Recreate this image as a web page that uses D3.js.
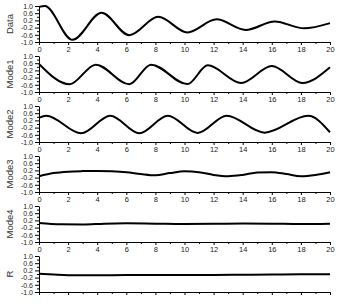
<!DOCTYPE html>
<html lang="en">
  <head>
    <meta charset="utf-8">
    <title>Modes</title>
    <script src="https://d3js.org/d3.v7.min.js"></script>
    <style>
      body { margin: 0; background: #fff; }
      text { font-family: "Liberation Sans", Arial, sans-serif; }
    </style>
  </head>
  <body>
    <script type="text/javascript">

      var w = 346;
      var h = 305;

      var names = ["Data", "Mode1", "Mode2", "Mode3", "Mode4", "R"];

      // turning points (t, value)
      var dataT  = [0, 0.4, 2.3, 4.3, 6.2, 8.2, 10.2, 12.2, 14.2, 16.2, 18.2, 20];
      var dataV  = [0.95, 1.0, -0.88, 0.62, -0.62, 0.4, -0.47, 0.26, -0.33, 0.14, -0.24, 0.05];

      var mode1T = [0, 2.1, 3.9, 6.2, 7.7, 10.2, 11.6, 13.9, 16.0, 18.1, 20];
      var mode1V = [0.56, -0.57, 0.52, -0.57, 0.52, -0.56, 0.48, -0.5, 0.44, -0.5, 0.37];

      var mode2T = [0, 0.5, 2.9, 4.9, 6.9, 8.85, 10.9, 12.9, 15.5, 18.5, 20];
      var mode2V = [0.35, 0.46, -0.52, 0.46, -0.52, 0.46, -0.5, 0.46, -0.48, 0.46, -0.46];

      var mode3T = [0, 1, 2, 3, 4, 5, 6, 7, 8, 9, 10, 11, 12, 13, 14, 15, 16, 17, 18, 19, 20];
      var mode3V = [-0.12, 0.05, 0.13, 0.16, 0.17, 0.15, 0.1, 0.0, -0.07, 0.05, 0.15, 0.1, -0.05, -0.12, -0.05, 0.08, 0.1, 0.0, -0.12, -0.05, 0.1];

      var mode4T = [0, 1.5, 3, 4.5, 6, 8, 10, 12, 14, 16, 18, 20];
      var mode4V = [0.05, -0.02, -0.03, 0.02, 0.04, 0.02, 0.0, 0.01, 0.03, 0.02, 0.0, 0.02];

      var resT   = [0, 1, 2, 4, 6, 8, 10, 12, 14, 16, 18, 20];
      var resV   = [0.02, -0.03, -0.07, -0.07, -0.06, -0.06, -0.05, -0.05, -0.04, -0.03, -0.02, -0.02];

      var seriesT = [dataT, mode1T, mode2T, mode3T, mode4T, resT];
      var seriesV = [dataV, mode1V, mode2V, mode3V, mode4V, resV];

      var yMajor = [-1.0, -0.6, -0.2, 0.2, 0.6, 1.0];
      var yMinor = [-0.8, -0.4, 0, 0.4, 0.8];
      var xMajor = [0, 2, 4, 6, 8, 10, 12, 14, 16, 18, 20];
      var xMinor = [1, 3, 5, 7, 9, 11, 13, 15, 17, 19];

      var left = 39, right = 330;
      var panelH = 36;
      var tops = [6, 56, 106, 156, 206, 256];

      var svg = d3.select("body")
          .append("svg")
          .attr("width", w)
          .attr("height", h);

      var xscale = d3.scaleLinear()
            .domain([0, 20])
            .range([left, right]);

      names.forEach(function(name, i) {
        var top = tops[i];
        var yscale = d3.scaleLinear()
              .domain([-1, 1])
              .range([top + panelH, top]);

        var g = svg.append("g");

        // minor ticks first
        g.append("g")
          .attr("transform", "translate(" + left + ",0)")
          .call(d3.axisLeft(yscale).tickValues(yMinor).tickSize(2).tickFormat(""))
          .call(a => a.select(".domain").remove());

        var ya = g.append("g")
          .attr("transform", "translate(" + left + ",0)")
          .call(d3.axisLeft(yscale).tickValues(yMajor).tickSize(4).tickSizeOuter(0)
                .tickPadding(2).tickFormat(d => d.toFixed(1)));
        ya.selectAll("text").attr("font-size", 7).attr("fill", "#222")
          .attr("font-family", "Liberation Sans, Arial, sans-serif");

        g.append("g")
          .attr("transform", "translate(0," + (top + panelH) + ")")
          .call(d3.axisBottom(xscale).tickValues(xMinor).tickSize(2).tickFormat(""))
          .call(a => a.select(".domain").remove());

        var xa = g.append("g")
          .attr("transform", "translate(0," + (top + panelH) + ")")
          .call(d3.axisBottom(xscale).tickValues(xMajor).tickSize(3).tickSizeOuter(0)
                .tickPadding(2).tickFormat(i < names.length - 1 ? d3.format("d") : ""));
        xa.selectAll("text").attr("font-size", 7.5).attr("fill", "#222")
          .attr("font-family", "Liberation Sans, Arial, sans-serif");

        g.append("text")
          .attr("transform", "translate(13," + (top + panelH / 2) + ") rotate(-90)")
          .attr("text-anchor", "middle")
          .attr("font-size", 9.5)
          .attr("fill", "#333")
          .text(name);

        var pts = d3.zip(seriesT[i], seriesV[i]);
        var line = d3.line()
            .x(d => xscale(d[0]))
            .y(d => yscale(d[1]))
            .curve(d3.curveMonotoneX);

        g.append("path")
          .datum(pts)
          .attr("d", line)
          .attr("fill", "none")
          .attr("stroke", "#000")
          .attr("stroke-width", 2);
      });

    </script>
  </body>
</html>
